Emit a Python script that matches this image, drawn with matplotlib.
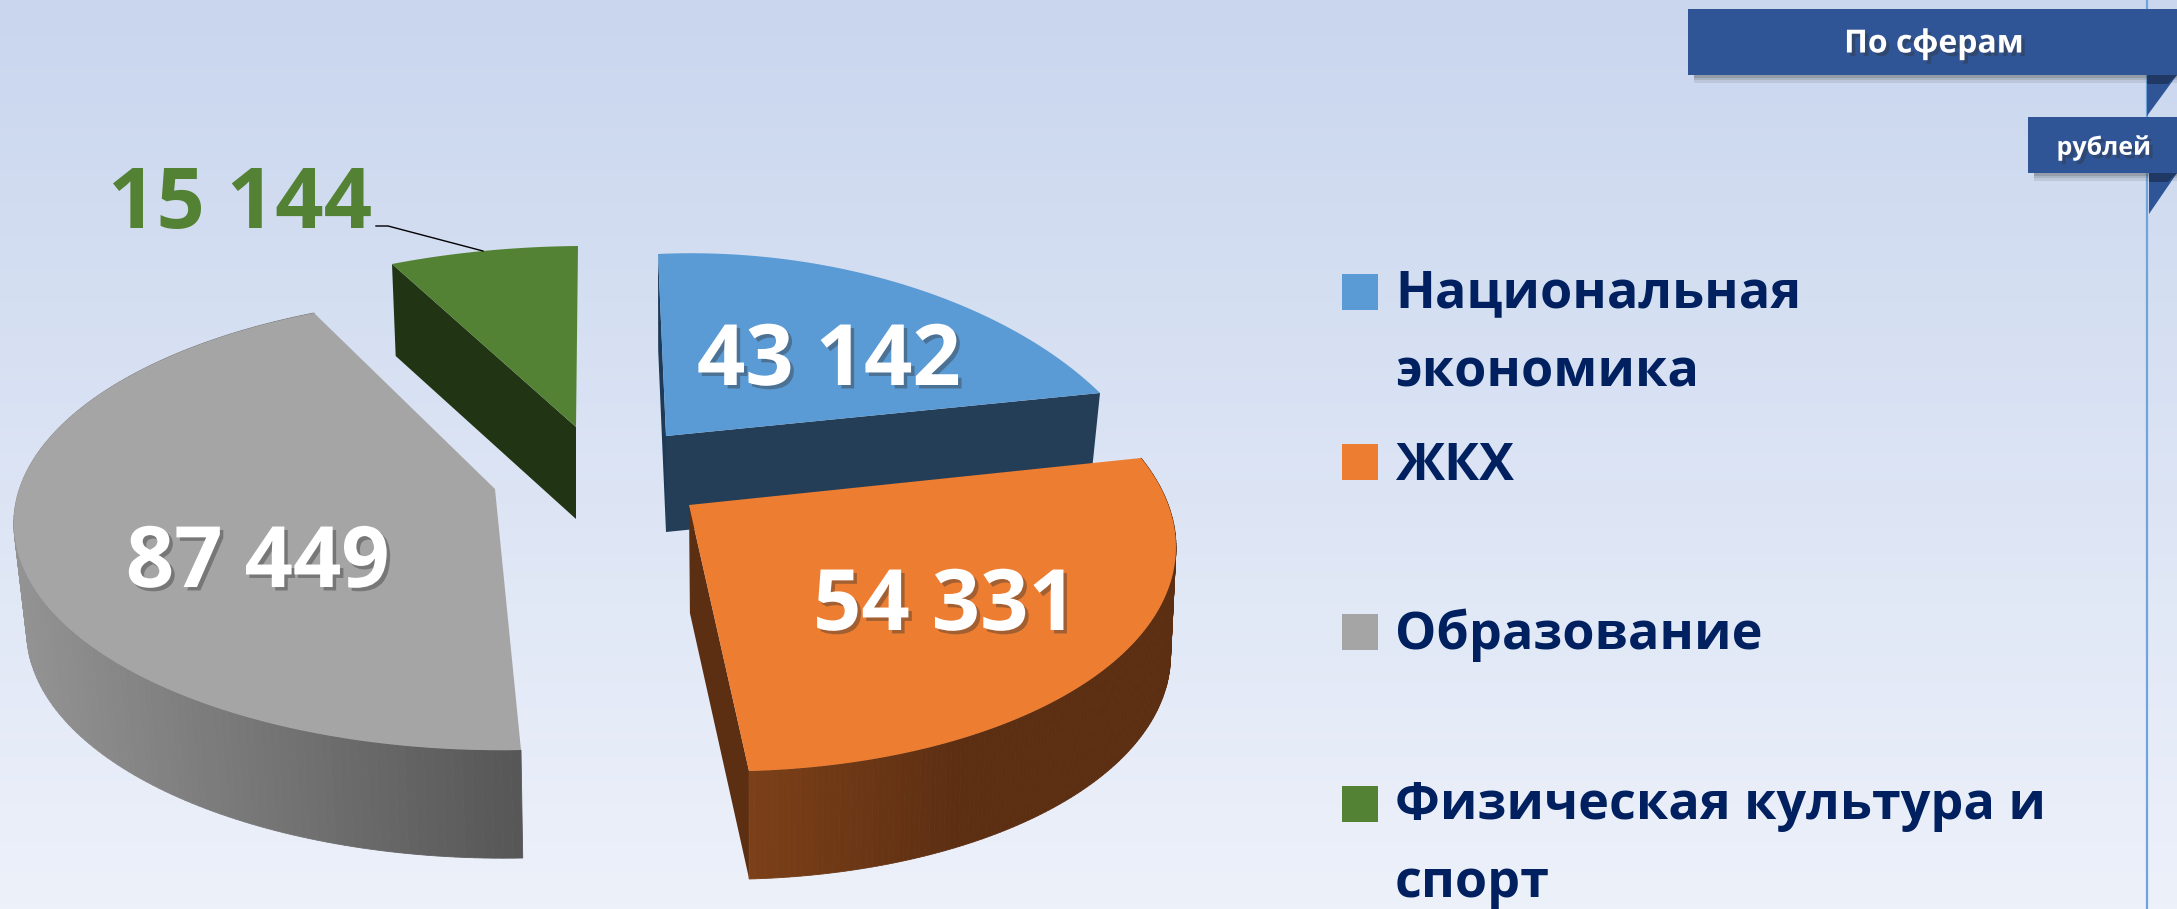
import numpy as np
import matplotlib
matplotlib.use("Agg")
import matplotlib.pyplot as plt
import matplotlib.patheffects as pe
from matplotlib.colors import to_rgb
from matplotlib.patches import Polygon, Rectangle

# data
categories = ["Национальная\nэкономика", "ЖКХ", "Образование", "Физическая культура и\nспорт"]
values = [43142, 54331, 87449, 15144]
value_labels = ["43 142", "54 331", "87 449", "15 144"]
colors = ["#5B9BD5", "#ED7D31", "#A5A5A5", "#548235"]

# where each exploded slice lands on screen: centre, arc start, arc middle, arc end
anchors = [
    [(666, 436), (658, 254), (888, 280), (1100, 393)],
    [(689, 505), (1141, 458), (1117, 659), (749, 771)],
    [(495, 489), (521, 750), (16, 545), (314, 313)],
    [(576, 427), (392, 264), (483, 251), (578, 246)],
]
depths = [96, 108, 108, 92]
squeeze = [0.977, 0.987, 0.978, 0.98]
squeeze_x = [666, 760, 600, 576]
label_pos = [(829, 363), (945, 608), (258, 565), (240, 206)]
legend_y = [294, 467, 635, 805]
legend_marker_y = [292, 462, 632, 804]

shadow = [pe.SimplePatchShadow(offset=(2.5, -2.5), alpha=0.4, shadow_rgbFace="#333333"), pe.Normal()]


def homography(src, dst):
    rows, rhs = [], []
    for (x, y), (u, v) in zip(src, dst):
        rows.append([x, y, 1, 0, 0, 0, -u * x, -u * y])
        rows.append([0, 0, 0, x, y, 1, -v * x, -v * y])
        rhs += [u, v]
    h = np.linalg.solve(np.array(rows, float), np.array(rhs, float))
    return np.append(h, 1).reshape(3, 3)


def project(h, pts):
    pts = np.column_stack([pts, np.ones(len(pts))]) @ h.T
    return pts[:, :2] / pts[:, 2:]


def drop(pts, depth, sx, xc):
    '''bottom rim of the slice: shifted down and pulled in a little for perspective'''
    out = np.array(pts, float)
    out[:, 0] = xc + (out[:, 0] - xc) * sx
    out[:, 1] = out[:, 1] + depth
    return out


def side_gradient(ax, top, bottom, c_left, c_right, z, reach=1.0):
    xs = top[:, 0]
    lo, hi = xs.min(), xs.max()
    c_left, c_right = np.array(to_rgb(c_left)), np.array(to_rgb(c_right))
    for i in range(len(top) - 1):
        t = min(((xs[i] + xs[i + 1]) / 2 - lo) / (hi - lo) / reach, 1)
        col = c_left + (c_right - c_left) * t
        quad = [top[i], top[i + 1], bottom[i + 1], bottom[i]]
        ax.add_patch(Polygon(quad, closed=True, fc=col, ec=col, lw=0.6, zorder=z))


fig = plt.figure(figsize=(21.77, 9.09), dpi=100)
ax = fig.add_axes([0, 0, 1, 1])
ax.set_xlim(0, 2177)
ax.set_ylim(909, 0)
ax.axis("off")

# background
top_c, bot_c = np.array(to_rgb("#C9D6EE")), np.array(to_rgb("#EDF1FA"))
grad = np.linspace(0, 1, 256)[:, None, None] * (bot_c - top_c) + top_c
ax.imshow(grad, extent=[0, 2177, 909, 0], aspect="auto", zorder=0)
ax.plot([2147, 2147], [0, 909], color="#6FA3DA", lw=1.6, zorder=1)

# slices, angles come from the values
edges = np.cumsum([0] + values) / sum(values) * 2 * np.pi
for i, val in enumerate(values):
    a0, a1 = edges[i], edges[i + 1]
    am = (a0 + a1) / 2
    src = [(0, 0), (np.cos(a0), np.sin(a0)), (np.cos(am), np.sin(am)), (np.cos(a1), np.sin(a1))]
    h = homography(src, anchors[i])
    th = np.linspace(a0, a1, 160)
    arc = project(h, np.column_stack([np.cos(th), np.sin(th)]))
    apex = np.array(anchors[i][0], float)
    arc_b = drop(arc, depths[i], squeeze[i], squeeze_x[i])
    apex_b = drop([apex], depths[i], squeeze[i], squeeze_x[i])[0]
    z = 2 + i
    if i == 0:
        ax.add_patch(Polygon([arc[0], apex, apex_b, arc_b[0]], fc="#1E3A56", ec="none", zorder=z))
        ax.add_patch(Polygon([apex, arc[-1], arc_b[-1], apex_b], fc="#243E57", ec="none", zorder=z))
    elif i == 1:
        ax.add_patch(Polygon([apex, arc[-1], arc_b[-1], apex_b], fc="#5C2E12", ec="none", zorder=z))
        side_gradient(ax, arc, arc_b, "#7C4018", "#5C2E12", z, reach=0.5)
    elif i == 2:
        side_gradient(ax, arc, arc_b, "#939393", "#565656", z)
    else:
        ax.add_patch(Polygon([arc[0], apex, apex_b, arc_b[0]], fc="#213414", ec="none", zorder=z))
    ax.add_patch(Polygon(np.vstack([apex, arc]), closed=True, fc=colors[i], ec="none", zorder=z + 0.5))

# value labels
for i, txt in enumerate(value_labels):
    col = colors[3] if i == 3 else "white"
    ax.text(label_pos[i][0], label_pos[i][1], txt, color=col, fontsize=61, fontweight="bold",
            family="Open Sans", ha="center", va="center", zorder=10,
            path_effects=None if i == 3 else shadow)

# leader line for the small slice
ax.plot([376, 388, 483], [226, 226, 251], color="black", lw=1, zorder=9)

# legend
for i, name in enumerate(categories):
    ax.add_patch(Rectangle((1342, legend_marker_y[i] - 18), 36, 36, fc=colors[i], ec="none", zorder=5))
    for j, line in enumerate(name.split("\n")):
        ax.text(1395, legend_y[i] + j * 79, line, color="#002060", fontsize=37.5, fontweight="bold",
                family="Open Sans", ha="left", va="center", zorder=5)

# ribbons top right
for x0, y0, y1, tx, ty, lab, fs, tip in [(1688, 9, 75, 1934, 44, "По сферам", 23, 2147),
                                         (2028, 117, 173, 2104, 148, "рублей", 18, 2149)]:
    for k, a in zip([8, 5, 3], [0.12, 0.15, 0.2]):
        ax.add_patch(Rectangle((x0 + 6, y1), 2177 - x0, k, fc="#444444", alpha=a, ec="none", zorder=6))
    ax.add_patch(Polygon([(tip, y1), (2177, y1), (tip, y1 + 41)], fc="#2F5597", ec="none", zorder=6.2))
    ax.add_patch(Polygon([(tip, y1), (2177, y1), (2168, y1 + 9), (tip, y1 + 9)], fc="#1F3864", ec="none", zorder=6.5))
    ax.add_patch(Rectangle((x0, y0), 2177 - x0, y1 - y0, fc="#2F5597", ec="none", zorder=7))
    ax.text(tx, ty, lab, color="white", fontsize=fs, fontweight="bold", family=["Open Sans", "DejaVu Sans"],
            ha="center", va="center", zorder=8, path_effects=shadow)

fig.savefig("out.png", dpi=100)
